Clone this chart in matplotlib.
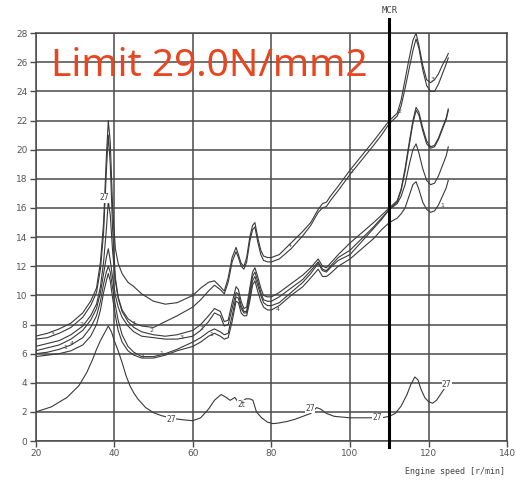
import matplotlib.pyplot as plt

# engine speed grid for the six stress curves
speed = [20, 23, 26, 29, 32, 34, 35.5, 36.5, 37.3, 38, 38.5, 39, 39.6, 40.3, 41, 42, 43.5, 45, 47, 50,
         53, 56, 60, 62, 64, 65.5, 67, 68, 69, 70, 71, 71.6, 72.3, 73, 73.7, 74.5, 75.2, 75.8, 76.5, 77.3,
         78, 79, 80, 82, 85, 88, 90, 91.9, 93, 94, 95, 97, 100, 103, 106, 108, 110, 112, 113, 114,
         115, 116, 116.8, 117.5, 118.5, 119.5, 120.5, 121.5, 122.5, 123.5, 124.5, 125]

stress_a1 = [7.2, 7.4, 7.7, 8.1, 8.8, 9.6, 10.5, 12.3, 15.0, 19.5, 22.0, 20.5, 16.0, 13.2, 12.2, 11.5, 10.9, 10.6, 10.1, 9.6,
             9.4, 9.5, 10.0, 10.5, 10.9, 11.0, 10.6, 10.3, 11.2, 12.6, 13.3, 12.8, 12.2, 12.0, 12.6, 14.0, 14.8, 15.0, 14.0, 13.1,
             12.7, 12.6, 12.6, 12.8, 13.6, 14.4, 15.0, 15.9, 16.3, 16.4, 16.8, 17.5, 18.6, 19.6, 20.6, 21.3, 22.0, 22.5, 23.4, 24.8,
             26.2, 27.5, 28.0, 27.2, 25.8, 24.8, 24.6, 24.8, 25.2, 25.8, 26.3, 26.6]
stress_a2 = [7.0, 7.1, 7.4, 7.8, 8.5, 9.3, 10.2, 11.8, 14.3, 18.5, 21.0, 19.0, 14.5, 11.2, 9.9, 9.0, 8.4, 8.1, 7.9, 7.8,
             8.2, 8.6, 9.2, 9.7, 10.3, 10.7, 10.4, 10.1, 10.9, 12.3, 13.0, 12.6, 12.0, 11.8, 12.3, 13.7, 14.5, 14.7, 13.7, 12.8,
             12.4, 12.3, 12.3, 12.5, 13.2, 14.1, 14.8, 15.7, 16.0, 16.1, 16.5, 17.2, 18.3, 19.3, 20.3, 21.0, 21.8, 22.3, 23.0, 24.2,
             25.5, 26.8, 27.6, 27.0, 25.5, 24.4, 24.0, 24.0, 24.5, 25.2, 25.9, 26.3]
stress_b1 = [6.5, 6.7, 6.9, 7.3, 7.9, 8.6, 9.4, 10.6, 12.3, 14.5, 16.5, 15.5, 13.0, 11.0, 9.8, 8.9, 8.2, 7.8, 7.5, 7.3,
             7.2, 7.3, 7.6, 8.0, 8.6, 9.1, 8.9, 8.2, 8.3, 9.5, 10.6, 10.4, 9.6, 9.1, 9.2, 10.5, 11.6, 11.9, 11.3, 10.5,
             10.0, 9.9, 9.9, 10.2, 10.8, 11.4, 11.9, 12.5, 12.0, 11.9, 12.2, 12.8, 13.6, 14.3, 15.0, 15.5, 16.0, 16.5, 17.3, 18.7,
             20.4, 22.0, 22.9, 22.6, 21.5, 20.6, 20.2, 20.3, 20.8, 21.5, 22.2, 22.8]
stress_b2 = [6.2, 6.4, 6.6, 7.0, 7.6, 8.3, 9.1, 10.2, 11.5, 12.6, 13.2, 12.4, 11.2, 10.0, 9.2, 8.5, 7.9, 7.5, 7.2, 7.1,
             7.0, 7.0, 7.2, 7.6, 8.2, 8.8, 8.6, 7.9, 8.0, 9.1, 10.2, 10.1, 9.3, 8.9, 8.9, 10.2, 11.3, 11.6, 11.0, 10.2,
             9.7, 9.6, 9.6, 9.9, 10.5, 11.1, 11.7, 12.3, 11.8, 11.7, 12.0, 12.6, 13.1, 13.9, 14.7, 15.3, 15.9, 16.4, 17.2, 18.5,
             20.2, 21.8, 22.7, 22.4, 21.3, 20.4, 20.1, 20.2, 20.7, 21.4, 22.1, 22.7]
stress_b3 = [6.0, 6.1, 6.3, 6.6, 7.1, 7.8, 8.6, 9.6, 10.8, 11.6, 12.0, 11.6, 10.5, 9.3, 8.3, 7.3, 6.5, 6.1, 5.8, 5.8,
             6.0, 6.3, 6.8, 7.1, 7.5, 7.7, 7.5, 7.3, 7.4, 8.6, 9.9, 9.8, 9.1, 8.8, 8.8, 9.9, 11.0, 11.3, 10.7, 10.0,
             9.5, 9.3, 9.3, 9.5, 10.2, 10.9, 11.5, 12.2, 11.7, 11.6, 11.9, 12.4, 12.8, 13.7, 14.6, 15.2, 15.9, 16.3, 16.8, 17.6,
             18.9, 20.0, 20.4, 19.8, 18.7, 17.9, 17.6, 17.7, 18.2, 18.9, 19.6, 20.2]
stress_b4 = [5.8, 5.9, 6.0, 6.2, 6.6, 7.2, 8.0, 9.0, 10.2, 11.0, 11.5, 11.0, 9.8, 8.6, 7.6, 6.8, 6.2, 5.9, 5.7, 5.7,
             5.9, 6.2, 6.5, 6.8, 7.2, 7.4, 7.2, 7.0, 7.1, 8.2, 9.6, 9.5, 8.8, 8.6, 8.6, 9.6, 10.7, 11.0, 10.3, 9.6,
             9.2, 9.0, 9.0, 9.3, 10.0, 10.6, 11.2, 11.8, 11.3, 11.3, 11.5, 12.0, 12.5, 13.2, 13.9, 14.5, 15.0, 15.3, 15.6, 16.0,
             16.8, 17.6, 17.8, 17.3, 16.4, 15.9, 15.7, 15.8, 16.2, 16.8, 17.4, 17.9]

# order 27 curve
speed_27 = [20, 24, 28, 31, 33, 34.5, 35.5, 36.5, 37.5, 38.5, 39.3, 40, 41, 42, 43, 44, 45, 46, 48, 50,
            52, 55, 58, 60, 62, 64, 65.5, 67.2, 68.5, 69.5, 70.7, 71.7, 72.5, 73.5, 74.5, 75.3, 76.2, 77.5, 79, 80.5,
            82, 84, 86, 88, 90, 91.5, 92.5, 94, 96, 98, 100, 103, 106, 108, 110, 111.5, 113, 114.5, 115.5, 116.5,
            117.3, 118, 119, 120, 121, 122, 123, 124, 125]
stress_27 = [2.0, 2.35, 3.0, 3.8, 4.7, 5.6, 6.3, 6.9, 7.4, 7.9, 7.5, 6.9, 6.2, 5.4, 4.5, 3.8, 3.3, 2.9, 2.3, 1.95,
             1.75, 1.55, 1.45, 1.4, 1.6, 2.2, 2.8, 3.2, 3.0, 2.8, 3.0, 2.6, 2.7, 2.9, 2.9, 2.8, 2.0, 1.6, 1.3, 1.2,
             1.25, 1.35, 1.5, 1.7, 1.9, 2.3, 2.2, 1.9, 1.7, 1.65, 1.6, 1.6, 1.6, 1.6, 1.7, 1.9, 2.4, 3.2, 3.9, 4.4,
             4.2, 3.6, 3.0, 2.7, 2.6, 2.8, 3.2, 3.6, 4.1]

labels_27 = [(54.5, 1.45, "27"), (72.4, 2.5, "2t"), (89.8, 2.25, "27"), (107, 1.6, "27"), (124.6, 3.9, "27"),
             (37.4, 16.7, "27")]
marks = [(24.4, 7.3, "3"), (31.7, 8.0, "2"), (29.2, 6.7, "4"), (27.6, 6.4, "1"), (45, 8.1, "3"),
         (49.4, 7.6, "2"), (57, 7.1, "3"), (62.2, 7.7, "2"), (64.8, 7.3, "1"), (47.3, 5.8, "4"),
         (52.1, 6.0, "1"), (60, 10.0, "2"), (81.5, 9.0, "4"), (84.7, 13.4, "4"), (100.5, 18.5, "2"),
         (112.5, 22.6, "2"), (121, 24.8, "3"), (123.5, 16.2, "1")]

fig = plt.figure(figsize=(5.16, 4.8), dpi=100)
ax = fig.add_axes([0.069, 0.081, 0.914, 0.85])

for ys in [stress_a1, stress_a2, stress_b1, stress_b2, stress_b3, stress_b4]:
    ax.plot(speed, ys, color="#3a3a3a", lw=0.8, zorder=3)
ax.plot(speed_27, stress_27, color="#3a3a3a", lw=0.8, zorder=3)

for x, y, s in labels_27:
    ax.text(x, y, s, fontsize=5.5, color="#444444", ha="center", va="center", zorder=4,
            bbox=dict(facecolor="white", edgecolor="none", pad=0.2))
for x, y, s in marks:
    ax.text(x, y, s, fontsize=4.5, color="#444444", ha="center", va="center", zorder=4)

# MCR line
ax.plot([110, 110], [-0.4, 29.0], color="black", lw=2.2, clip_on=False, zorder=5)
ax.text(110, 29.55, "MCR", fontsize=6.5, color="#444444", ha="center", va="center",
        family="DejaVu Sans Mono")

ax.text(24.0, 25.75, "Limit 29.0N/mm2", fontsize=28, color="#e8461e", family="Noto Sans",
        ha="left", va="center", zorder=6)

ax.set_xlim(20, 140)
ax.set_ylim(0, 28)
ax.set_xticks(range(20, 141, 20))
ax.set_yticks(range(0, 29, 2))
ax.grid(True, color="#4a4a4a", lw=1.1)
ax.set_axisbelow(True)
for sp in ax.spines.values():
    sp.set_color("#4a4a4a")
    sp.set_linewidth(1.1)
ax.tick_params(labelsize=6.5, labelcolor="#555555", color="#4a4a4a", length=4, width=1, pad=2)

fig.text(505 / 516, 1 - 471 / 480, "Engine speed [r/min]", fontsize=6, color="#444444",
         ha="right", va="center", family="DejaVu Sans Mono")

fig.savefig("out.png", dpi=100)
